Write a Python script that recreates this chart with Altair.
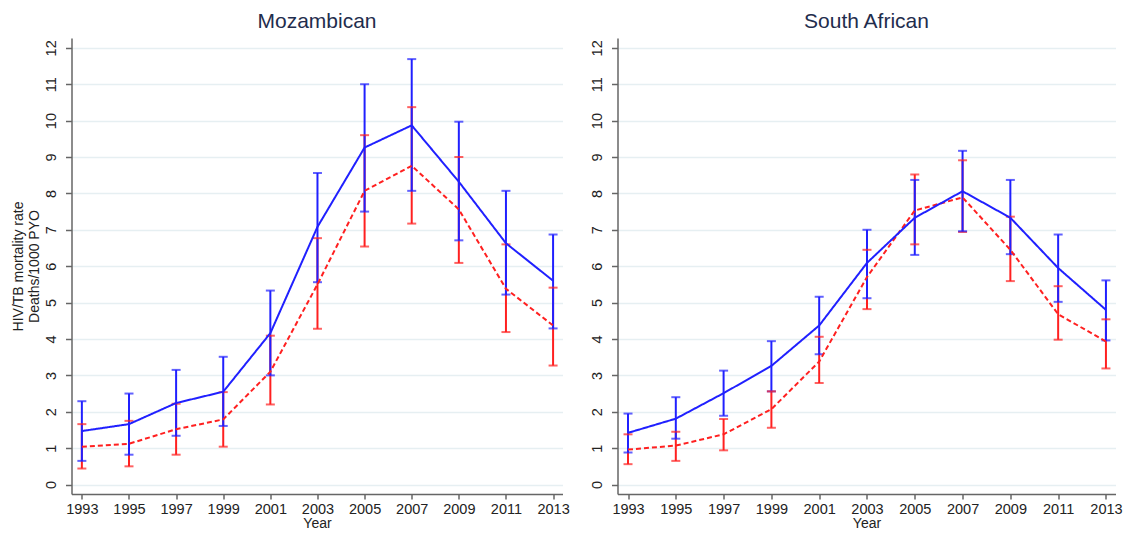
import altair as alt
import pandas as pd

years = [1993, 1995, 1997, 1999, 2001, 2003, 2005, 2007, 2009, 2011, 2013]

moz_solid = [1.47, 1.66, 2.24, 2.55, 4.16, 7.08, 9.26, 9.87, 8.32, 6.63, 5.60]
moz_solid_lo = [0.65, 0.82, 1.34, 1.61, 3.00, 5.56, 7.50, 8.07, 6.71, 5.22, 4.29]
moz_solid_hi = [2.29, 2.50, 3.15, 3.51, 5.33, 8.56, 11.00, 11.69, 9.97, 8.07, 6.87]
moz_dash = [1.04, 1.12, 1.52, 1.79, 3.10, 5.50, 8.07, 8.76, 7.56, 5.38, 4.37]
moz_dash_lo = [0.44, 0.50, 0.82, 1.04, 2.20, 4.28, 6.54, 7.17, 6.09, 4.19, 3.27]
moz_dash_hi = [1.66, 1.75, 2.22, 2.54, 4.09, 6.77, 9.60, 10.37, 9.00, 6.60, 5.41]

sa_solid = [1.42, 1.81, 2.51, 3.26, 4.37, 6.09, 7.33, 8.06, 7.33, 5.95, 4.80]
sa_solid_lo = [0.88, 1.26, 1.89, 2.56, 3.58, 5.12, 6.31, 6.96, 6.33, 5.02, 3.96]
sa_solid_hi = [1.95, 2.40, 3.13, 3.94, 5.16, 7.00, 8.37, 9.17, 8.37, 6.87, 5.61]
sa_dash = [0.96, 1.07, 1.38, 2.07, 3.38, 5.70, 7.53, 7.89, 6.45, 4.68, 3.93]
sa_dash_lo = [0.56, 0.65, 0.94, 1.56, 2.79, 4.82, 6.60, 6.94, 5.59, 3.98, 3.19]
sa_dash_hi = [1.38, 1.45, 1.80, 2.56, 4.06, 6.45, 8.52, 8.91, 7.36, 5.45, 4.54]

y_ticks = [0, 0.5, 1, 1.5, 2, 2.5, 3, 3.5, 4, 4.5, 5, 5.5, 6, 6.5, 7, 7.5,
           8, 8.5, 9, 9.5, 10, 10.5, 11, 11.5, 12]

series_names = ["dashed", "solid"]
series_colors = ["#ff2020", "#2020ff"]


def make_df(dash, dash_lo, dash_hi, solid, solid_lo, solid_hi):
    rows = []
    for s, est, lo, hi in [("dashed", dash, dash_lo, dash_hi),
                           ("solid", solid, solid_lo, solid_hi)]:
        for yr, e, l, h in zip(years, est, lo, hi):
            rows.append({"series": s, "year": yr, "est": e, "lo": l, "hi": h})
    return pd.DataFrame(rows)


def panel(df, title, width, ytitle):
    xscale = alt.Scale(domain=[1992.56, 2013.4], nice=False, zero=False)
    yscale = alt.Scale(domain=[-0.26, 12.27], nice=False, zero=False)
    xaxis = alt.Axis(values=years, format="d", title="Year", grid=False,
                     labelAngle=0, labelPadding=3, titlePadding=1)
    yaxis = alt.Axis(values=y_ticks, title=ytitle, grid=True, format="d",
                     labelExpr="datum.value % 1 === 0 ? datum.label : ''",
                     tickSize={"condition": {"test": "datum.value % 1 !== 0", "value": 3},
                               "value": 6},
                     labelAngle=270, labelAlign="center", labelBaseline="bottom",
                     labelPadding=7, titlePadding=2, titleLineHeight=16)
    color = alt.Color("series:N", scale=alt.Scale(domain=series_names, range=series_colors),
                      legend=None)
    dash = alt.StrokeDash("series:N",
                          scale=alt.Scale(domain=series_names, range=[[5, 3], [1, 0]]),
                          legend=None)
    base = alt.Chart(df)
    x = alt.X("year:Q", scale=xscale, axis=xaxis)
    rules = base.mark_rule(strokeWidth=2).encode(
        x=x, y=alt.Y("lo:Q", scale=yscale, axis=yaxis), y2="hi:Q", color=color)
    cap_lo = base.mark_tick(orient="horizontal", size=9, thickness=2).encode(
        x=x, y=alt.Y("lo:Q", scale=yscale, axis=yaxis), color=color)
    cap_hi = base.mark_tick(orient="horizontal", size=9, thickness=2).encode(
        x=x, y=alt.Y("hi:Q", scale=yscale, axis=yaxis), color=color)
    line = base.mark_line(strokeWidth=2).encode(
        x=x, y=alt.Y("est:Q", scale=yscale, axis=yaxis), color=color, strokeDash=dash)
    return alt.layer(rules, cap_lo, cap_hi, line).properties(
        width=width, height=456,
        title=alt.TitleParams(title, fontSize=21, font="Liberation Sans",
                              fontWeight="normal", color="#1f2d4d", offset=6,
                              anchor="middle"))


moz = make_df(moz_dash, moz_dash_lo, moz_dash_hi, moz_solid, moz_solid_lo, moz_solid_hi)
sa = make_df(sa_dash, sa_dash_lo, sa_dash_hi, sa_solid, sa_solid_lo, sa_solid_hi)

left = panel(moz, "Mozambican", 491, ["HIV/TB mortality rate", "Deaths/1000 PYO"])
right = panel(sa, "South African", 498, None)

chart = alt.hconcat(left, right, spacing=55, bounds="flush").properties(
    padding={"left": 3.5, "top": 3, "right": 0, "bottom": 0}
).configure_view(stroke=None).configure_axis(
    domainColor="#666666", domainWidth=1.5, tickColor="#666666", tickWidth=1.5,
    tickSize=5, labelFont="Liberation Sans", labelFontSize=14.5, labelColor="#222222",
    titleFont="Liberation Sans", titleFontSize=14, titleColor="#222222",
    titleFontWeight="normal", gridColor="#e6eff2", gridWidth=1.5
)

chart.save("out.html", embed_options={"renderer": "svg", "actions": False})
